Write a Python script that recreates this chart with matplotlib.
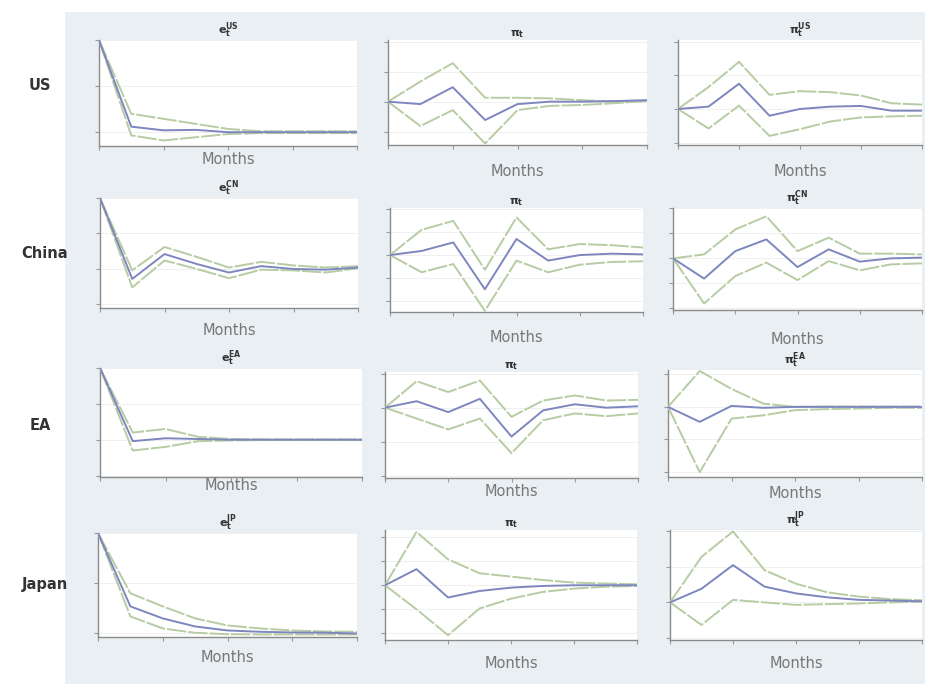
import matplotlib
matplotlib.use("Agg")
import matplotlib.pyplot as plt
from matplotlib.patches import Rectangle
import numpy as np

W, H = 925, 684
months = [0, 1, 2, 3, 4, 5, 6, 7, 8]
row_labels = ["US", "China", "EA", "Japan"]
titles = [
    [r"$\mathbf{e_t^{US}}$", r"$\mathbf{\pi_t}$", r"$\mathbf{\pi_t^{US}}$"],
    [r"$\mathbf{e_t^{CN}}$", r"$\mathbf{\pi_t}$", r"$\mathbf{\pi_t^{CN}}$"],
    [r"$\mathbf{e_t^{EA}}$", r"$\mathbf{\pi_t}$", r"$\mathbf{\pi_t^{EA}}$"],
    [r"$\mathbf{e_t^{JP}}$", r"$\mathbf{\pi_t}$", r"$\mathbf{\pi_t^{JP}}$"],
]

# centre, upper, lower for each panel
us_e_mid = [1.0, 0.06, 0.02, 0.025, 0.0, 0.0, 0.0, 0.0, 0.0]
us_e_up = [1.0, 0.20, 0.145, 0.09, 0.035, 0.01, 0.01, 0.01, 0.01]
us_e_lo = [1.0, -0.035, -0.09, -0.055, -0.02, -0.01, -0.01, -0.01, -0.01]
us_pi_mid = [0.0, -0.08, 0.48, -0.61, -0.08, 0.0, 0.0, 0.02, 0.05]
us_pi_up = [0.0, 0.67, 1.28, 0.13, 0.13, 0.11, 0.05, 0.0, 0.03]
us_pi_lo = [0.0, -0.81, -0.28, -1.39, -0.28, -0.14, -0.11, -0.05, 0.02]
us_pif_mid = [0.0, 0.07, 0.75, -0.20, 0.0, 0.07, 0.09, -0.05, -0.05]
us_pif_up = [0.0, 0.65, 1.40, 0.42, 0.53, 0.50, 0.40, 0.17, 0.13]
us_pif_lo = [0.0, -0.58, 0.10, -0.80, -0.60, -0.37, -0.25, -0.22, -0.20]

cn_e_mid = [1.0, -0.14, 0.21, 0.07, -0.05, 0.04, 0.0, -0.01, 0.02]
cn_e_up = [1.0, -0.02, 0.31, 0.17, 0.02, 0.10, 0.05, 0.02, 0.04]
cn_e_lo = [1.0, -0.26, 0.12, 0.0, -0.13, -0.01, -0.02, -0.05, 0.01]
cn_pi_mid = [0.0, 0.18, 0.55, -1.49, 0.70, -0.24, 0.0, 0.06, 0.03]
cn_pi_up = [0.0, 1.10, 1.49, -0.64, 1.64, 0.25, 0.48, 0.43, 0.33]
cn_pi_lo = [0.0, -0.75, -0.39, -2.43, -0.24, -0.75, -0.42, -0.30, -0.27]
cn_pif_mid = [0.0, -0.81, 0.29, 0.76, -0.35, 0.36, -0.13, 0.0, 0.03]
cn_pif_up = [0.0, 0.16, 1.16, 1.69, 0.29, 0.83, 0.19, 0.19, 0.16]
cn_pif_lo = [0.0, -1.81, -0.71, -0.17, -0.87, -0.11, -0.48, -0.24, -0.20]

ea_e_mid = [1.0, -0.02, 0.02, 0.01, 0.0, 0.0, 0.0, 0.0, 0.0]
ea_e_up = [1.0, 0.10, 0.15, 0.04, 0.01, 0.005, 0.005, 0.005, 0.005]
ea_e_lo = [1.0, -0.15, -0.10, -0.02, -0.01, -0.005, -0.005, -0.005, -0.005]
ea_pi_mid = [0.0, 0.19, -0.13, 0.26, -0.85, -0.08, 0.10, 0.0, 0.04]
ea_pi_up = [0.0, 0.78, 0.46, 0.80, -0.27, 0.21, 0.36, 0.21, 0.23]
ea_pi_lo = [0.0, -0.32, -0.64, -0.32, -1.34, -0.37, -0.17, -0.25, -0.17]
ea_pif_mid = [0.0, -0.46, 0.03, -0.03, 0.0, 0.0, 0.0, 0.0, 0.0]
ea_pif_up = [0.0, 1.10, 0.55, 0.10, 0.0, 0.01, 0.01, 0.01, 0.01]
ea_pif_lo = [0.0, -2.00, -0.36, -0.26, -0.10, -0.07, -0.05, -0.03, -0.03]

jp_e_mid = [1.0, 0.27, 0.15, 0.07, 0.03, 0.017, 0.01, 0.008, 0.0]
jp_e_up = [1.0, 0.40, 0.27, 0.15, 0.08, 0.05, 0.03, 0.02, 0.017]
jp_e_lo = [1.0, 0.17, 0.05, 0.007, -0.007, -0.01, -0.01, -0.01, -0.01]
jp_pi_mid = [0.0, 0.67, -0.51, -0.24, -0.10, -0.03, 0.0, 0.0, 0.0]
jp_pi_up = [0.0, 2.22, 1.08, 0.50, 0.36, 0.22, 0.11, 0.07, 0.04]
jp_pi_lo = [0.0, -1.00, -2.08, -0.97, -0.56, -0.28, -0.14, -0.06, -0.03]
jp_pif_mid = [0.0, 0.38, 1.04, 0.44, 0.25, 0.14, 0.07, 0.05, 0.03]
jp_pif_up = [0.0, 1.27, 1.98, 0.90, 0.52, 0.28, 0.16, 0.09, 0.06]
jp_pif_lo = [0.0, -0.63, 0.07, 0.0, -0.07, -0.05, -0.03, 0.0, 0.02]

series = [
    [(us_e_mid, us_e_up, us_e_lo), (us_pi_mid, us_pi_up, us_pi_lo), (us_pif_mid, us_pif_up, us_pif_lo)],
    [(cn_e_mid, cn_e_up, cn_e_lo), (cn_pi_mid, cn_pi_up, cn_pi_lo), (cn_pif_mid, cn_pif_up, cn_pif_lo)],
    [(ea_e_mid, ea_e_up, ea_e_lo), (ea_pi_mid, ea_pi_up, ea_pi_lo), (ea_pif_mid, ea_pif_up, ea_pif_lo)],
    [(jp_e_mid, jp_e_up, jp_e_lo), (jp_pi_mid, jp_pi_up, jp_pi_lo), (jp_pif_mid, jp_pif_up, jp_pif_lo)],
]

yticks = [
    [[0, 0.5, 1], [-1, 0, 1, 2], [-1, 0, 1, 2]],
    [[-0.5, 0, 0.5, 1], [-2, -1, 0, 1, 2], [-2, -1, 0, 1, 2]],
    [[-0.5, 0, 0.5, 1], [-2, -1, 0, 1], [-2, -1, 0, 1]],
    [[0, 0.5, 1], [-2, -1, 0, 1, 2], [-1, 0, 1, 2]],
]
ylims = [
    [(-0.15, 1.0), (-1.44, 2.05), (-1.07, 2.05)],
    [(-0.55, 1.0), (-2.48, 2.05), (-2.07, 2.02)],
    [(-0.52, 1.0), (-2.07, 1.05), (-2.15, 1.13)],
    [(-0.035, 1.0), (-2.28, 2.3), (-1.05, 2.02)],
]

# layout in pixels: (left, top, right, bottom)
boxes = [
    [(99, 40, 357, 146), (388, 40, 647, 145), (678, 40, 922, 145)],
    [(100, 198, 358, 308), (390, 208, 643, 312), (673, 208, 922, 310)],
    [(100, 368, 362, 477), (385, 372, 638, 478), (668, 370, 922, 477)],
    [(98, 533, 357, 637), (385, 530, 637, 640), (670, 530, 922, 640)],
]
label_y = [
    [160, 171, 172],
    [331, 337, 340],
    [485, 492, 493],
    [657, 663, 663],
]
row_label_pos = [(40, 85), (45, 253), (40, 425), (45, 585)]

mid_color = "#7d86bf"
band_color = "#b7cca2"

fig = plt.figure(figsize=(W / 100, H / 100), dpi=100)
fig.patch.set_facecolor("white")
fig.add_artist(Rectangle((65 / W, 0), 1 - 65 / W, (H - 12) / H,
                         transform=fig.transFigure, facecolor="#e9eff2",
                         edgecolor="none", zorder=0))

for r in range(4):
    for c in range(3):
        l, t, rr, b = boxes[r][c]
        ax = fig.add_axes([l / W, 1 - b / H, (rr - l) / W, (b - t) / H])
        ax.set_facecolor("white")
        mid, up, lo = series[r][c]
        ax.plot(months, up, color=band_color, lw=1.4, linestyle=(0, (10, 1)), zorder=3)
        ax.plot(months, lo, color=band_color, lw=1.4, linestyle=(0, (10, 1)), zorder=3)
        ax.plot(months, mid, color=mid_color, lw=1.4, zorder=4)
        ax.set_xlim(0, 8)
        ax.set_ylim(*ylims[r][c])
        ax.set_xticks([0, 2, 4, 6, 8])
        ax.set_yticks(yticks[r][c])
        ax.set_xticklabels([])
        ax.set_yticklabels([])
        ax.tick_params(length=3, width=0.8, color="#999999")
        ax.grid(axis="y", color="#eeeeee", lw=0.6)
        for s in ["top", "right"]:
            ax.spines[s].set_visible(False)
        for s in ["left", "bottom"]:
            ax.spines[s].set_color("#8a8a8a")
            ax.spines[s].set_linewidth(1.0)
        ax.set_title(titles[r][c], fontsize=8, color="#333333", pad=2)
        hpx = b - t
        ax.set_xlabel("Months", fontsize=10.5, color="#777777", va="center")
        ax.xaxis.set_label_coords(0.5, -(label_y[r][c] - b) / hpx)

for (x, y), lab in zip(row_label_pos, row_labels):
    fig.text(x / W, 1 - y / H, lab, fontsize=10.5, color="#333333",
             fontweight="semibold", ha="center", va="center")

fig.savefig("out.png", dpi=100)
